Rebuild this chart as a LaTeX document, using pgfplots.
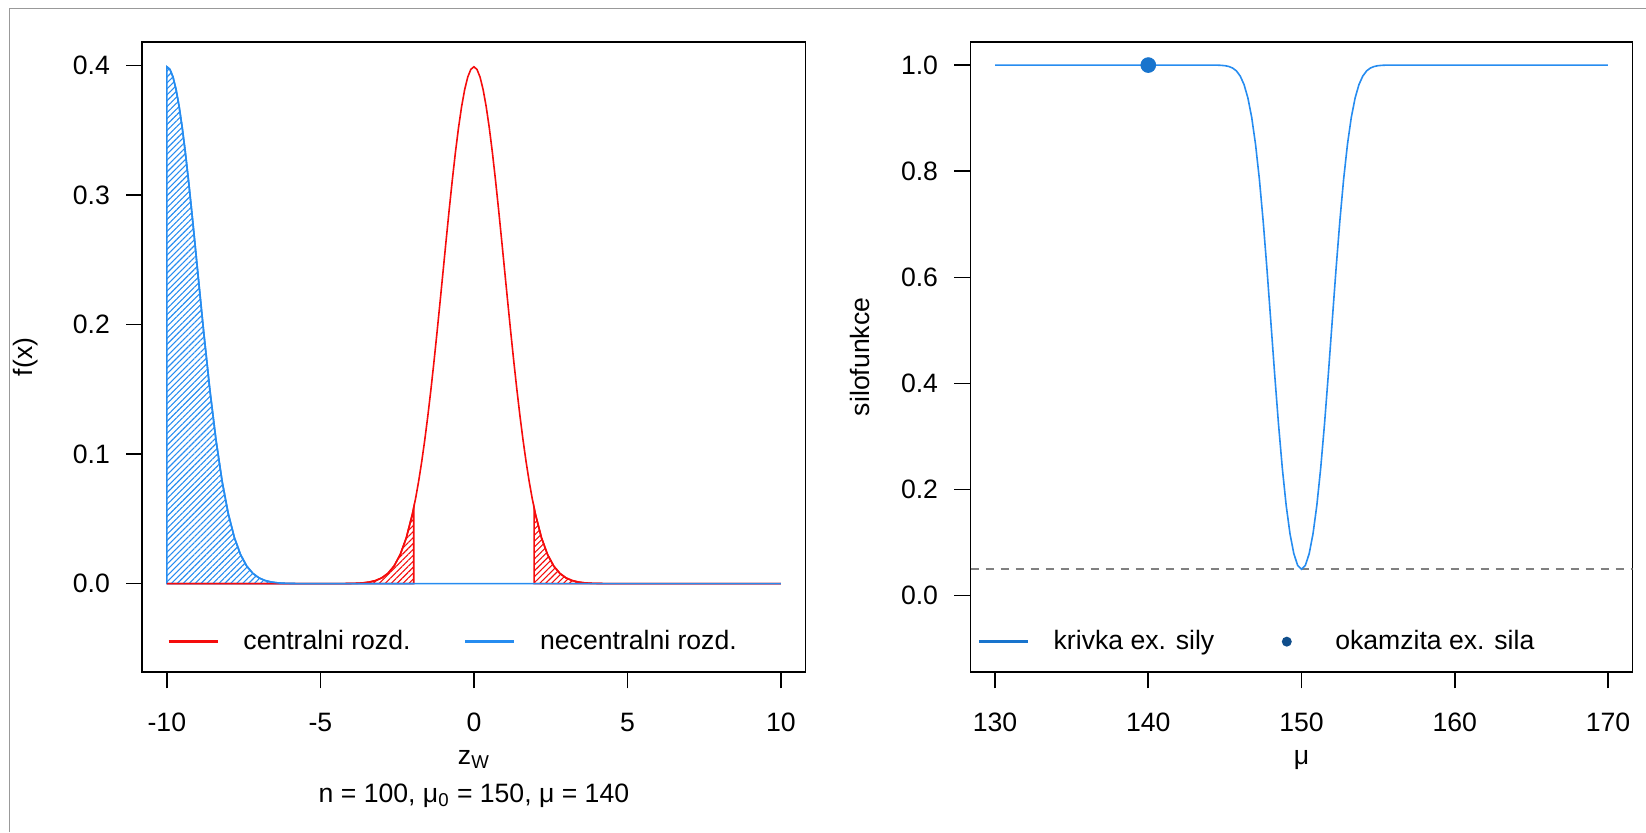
\documentclass[border=0pt]{standalone}
\usepackage{fontspec}
\setmainfont{Liberation Sans}
\usepackage{pgfplots}
\pgfplotsset{compat=1.18}
\usetikzlibrary{patterns.meta}

\definecolor{cred}{RGB}{245,12,12}
\definecolor{cblue}{RGB}{38,140,240}
\definecolor{cblue3}{RGB}{24,116,205}
\definecolor{cblue4}{RGB}{16,78,139}
\newcommand{\fs}{\fontsize{13.3}{16}\selectfont}

\pgfplotsset{
  rstyle/.style={
    scale only axis,
    axis line style={line width=0.8pt},
    tick style={line width=0.8pt, black},
    tick align=outside,
    major tick length=8.1pt,
    xtick pos=left, ytick pos=left,
    every tick label/.append style={font=\fs},
    title style={font=\fs},
    yticklabel style={xshift=-4.6pt},
    xticklabel style={yshift=-8.8pt},
    legend style={draw=none, fill=none, inner sep=0pt, outer sep=0pt, font=\fs},
    legend columns=2,
    every axis x label/.style={at={(axis description cs:0.5,0)},anchor=base,yshift=-46pt,font=\fs},
  }
}

\begin{document}
\begin{tikzpicture}
\useasboundingbox (0pt,0pt) rectangle (823pt,-416pt);
\draw[black!40, line width=0.75pt] (4.65pt,-416pt) -- (4.65pt,-4.15pt) -- (823pt,-4.15pt);

% ---------------- left panel ----------------
\begin{axis}[rstyle,
  at={(71.15pt,-20.85pt)}, anchor=north west,
  width=331.6pt, height=315.2pt,
  xmin=-10.8, xmax=10.8, ymin=-0.0683, ymax=0.4183,
  xtick={-10,-5,0,5,10}, xticklabels={-10,-5,0,5,10},
  ytick={0,0.1,0.2,0.3,0.4}, yticklabels={0.0,0.1,0.2,0.3,0.4},
  xlabel={z\textsubscript{W}},
  ylabel={f(x)},
  every axis y label/.style={at={(axis description cs:-0.1754,0.5)},anchor=center,rotate=90,font=\fs},
  title={n = 100, μ\textsubscript{0} = 150, μ = 140},
  title style={at={(axis description cs:0.5,0)}, anchor=base, yshift=-71pt},
  legend style={at={(axis cs:-10,-0.0447)}, anchor=west,
    /tikz/every odd column/.append style={column sep=10pt},
    /tikz/every even column/.append style={column sep=24.5pt}},
]
% hatched tails of the central distribution
\addplot[draw=cred, line width=0.8pt, pattern={Lines[angle=45,distance=2.1pt,line width=0.55pt]}, pattern color=cred, forget plot]
 coordinates {(-10,0) (-5,0.000001) (-4.4,0.000025) (-4.2,0.000059) (-4,0.000134) (-3.8,0.000292) (-3.6,0.000612) (-3.4,0.001232) (-3.2,0.002384) (-3,0.004432) (-2.8,0.007915) (-2.6,0.013583) (-2.4,0.022395) (-2.2,0.035475) (-2,0.053991) (-1.96,0.058441) (-1.96,0)} \closedcycle;
\addplot[draw=cred, line width=0.8pt, pattern={Lines[angle=45,distance=2.1pt,line width=0.55pt]}, pattern color=cred, forget plot]
 coordinates {(1.96,0) (1.96,0.058441) (2,0.053991) (2.2,0.035475) (2.4,0.022395) (2.6,0.013583) (2.8,0.007915) (3,0.004432) (3.2,0.002384) (3.4,0.001232) (3.6,0.000612) (3.8,0.000292) (4,0.000134) (4.2,0.000059) (4.4,0.000025) (5,0.000001) (10,0)} \closedcycle;
% hatched region of the noncentral distribution
\addplot[draw=cblue, line width=0.8pt, pattern={Lines[angle=45,distance=2.1pt,line width=0.55pt]}, pattern color=cblue, forget plot]
 coordinates {(-10,0) (-10,0.398942) (-9.9,0.396953) (-9.8,0.391043) (-9.7,0.381388) (-9.6,0.368270) (-9.5,0.352065) (-9.4,0.333225) (-9.3,0.312254) (-9.2,0.289692) (-9.1,0.266085) (-9,0.241971) (-8.8,0.194186) (-8.6,0.149727) (-8.4,0.110921) (-8.2,0.078950) (-8,0.053991) (-7.8,0.035475) (-7.6,0.022395) (-7.4,0.013583) (-7.2,0.007915) (-7,0.004432) (-6.8,0.002384) (-6.6,0.001232) (-6.4,0.000612) (-6.2,0.000292) (-6,0.000134) (-5.8,0.000059) (-5.6,0.000025) (-5,0.000001) (-1.96,0)} \closedcycle;
% central density
\addplot[cred, line width=0.8pt,
  legend image code/.code={\draw[cred, line width=1.8pt] (0pt,0pt) -- (24.5pt,0pt);}]
 coordinates {(-10,0) (-5,0.000001) (-4.4,0.000025) (-4.2,0.000059) (-4,0.000134) (-3.8,0.000292) (-3.6,0.000612) (-3.4,0.001232) (-3.2,0.002384) (-3,0.004432) (-2.8,0.007915) (-2.6,0.013583) (-2.4,0.022395) (-2.2,0.035475) (-2,0.053991) (-1.9,0.065616) (-1.8,0.078950) (-1.7,0.094049) (-1.6,0.110921) (-1.5,0.129518) (-1.4,0.149727) (-1.3,0.171369) (-1.2,0.194186) (-1.1,0.217852) (-1,0.241971) (-0.9,0.266085) (-0.8,0.289692) (-0.7,0.312254) (-0.6,0.333225) (-0.5,0.352065) (-0.4,0.368270) (-0.3,0.381388) (-0.2,0.391043) (-0.1,0.396953) (0,0.398942) (0.1,0.396953) (0.2,0.391043) (0.3,0.381388) (0.4,0.368270) (0.5,0.352065) (0.6,0.333225) (0.7,0.312254) (0.8,0.289692) (0.9,0.266085) (1,0.241971) (1.1,0.217852) (1.2,0.194186) (1.3,0.171369) (1.4,0.149727) (1.5,0.129518) (1.6,0.110921) (1.7,0.094049) (1.8,0.078950) (1.9,0.065616) (2,0.053991) (2.2,0.035475) (2.4,0.022395) (2.6,0.013583) (2.8,0.007915) (3,0.004432) (3.2,0.002384) (3.4,0.001232) (3.6,0.000612) (3.8,0.000292) (4,0.000134) (4.2,0.000059) (4.4,0.000025) (5,0.000001) (10,0)};
\addlegendentry{centralni rozd.}
% noncentral density
\addplot[cblue, line width=0.8pt,
  legend image code/.code={\draw[cblue, line width=1.8pt] (0pt,0pt) -- (24.5pt,0pt);}]
 coordinates {(-10,0.398942) (-9.9,0.396953) (-9.8,0.391043) (-9.7,0.381388) (-9.6,0.368270) (-9.5,0.352065) (-9.4,0.333225) (-9.3,0.312254) (-9.2,0.289692) (-9.1,0.266085) (-9,0.241971) (-8.8,0.194186) (-8.6,0.149727) (-8.4,0.110921) (-8.2,0.078950) (-8,0.053991) (-7.8,0.035475) (-7.6,0.022395) (-7.4,0.013583) (-7.2,0.007915) (-7,0.004432) (-6.8,0.002384) (-6.6,0.001232) (-6.4,0.000612) (-6.2,0.000292) (-6,0.000134) (-5.8,0.000059) (-5.6,0.000025) (-5,0.000001) (10,0)};
\addlegendentry{necentralni rozd.}
\end{axis}

% ---------------- right panel ----------------
\begin{axis}[rstyle,
  at={(485.25pt,-20.85pt)}, anchor=north west,
  width=331pt, height=315.2pt,
  xmin=128.4, xmax=171.6, ymin=-0.144, ymax=1.044,
  xtick={130,140,150,160,170}, xticklabels={130,140,150,160,170},
  ytick={0,0.2,0.4,0.6,0.8,1}, yticklabels={0.0,0.2,0.4,0.6,0.8,1.0},
  xlabel={μ},
  ylabel={silofunkce},
  every axis y label/.style={at={(axis description cs:-0.1669,0.5)},anchor=center,rotate=90,font=\fs},
  legend style={at={(axis cs:128.83,-0.0866)}, anchor=west,
    /tikz/every odd column/.append style={column sep=10pt},
    /tikz/every even column/.append style={column sep=22pt}},
]
\addplot[black!50, line width=0.7pt, dash pattern=on 4pt off 3.5pt, forget plot]
 coordinates {(128.4,0.05) (171.6,0.05)};
\addplot[cblue, line width=0.8pt,
  legend image code/.code={\draw[cblue3, line width=1.8pt] (0pt,0pt) -- (24.5pt,0pt);}]
 coordinates {(130,1) (143.5,1) (144,0.99997) (144.5,0.9998) (144.75,0.9995) (145,0.99882) (145.25,0.99736) (145.5,0.99446) (145.75,0.9890) (146,0.9793) (146.25,0.9633) (146.5,0.9382) (146.75,0.9015) (147,0.8508) (147.25,0.7852) (147.5,0.7054) (147.75,0.6141) (148,0.5160) (148.25,0.4169) (148.5,0.3231) (148.75,0.2396) (149,0.1701) (149.25,0.1165) (149.5,0.0791) (149.75,0.0572) (150,0.05) (150.25,0.0572) (150.5,0.0791) (150.75,0.1165) (151,0.1701) (151.25,0.2396) (151.5,0.3231) (151.75,0.4169) (152,0.5160) (152.25,0.6141) (152.5,0.7054) (152.75,0.7852) (153,0.8508) (153.25,0.9015) (153.5,0.9382) (153.75,0.9633) (154,0.9793) (154.25,0.9890) (154.5,0.99446) (154.75,0.99736) (155,0.99882) (155.25,0.9995) (155.5,0.9998) (156,0.99997) (156.5,1) (170,1)};
\addlegendentry{krivka ex. sily}
\addplot[only marks, mark=*, mark size=3.7pt, cblue3, mark options={draw=cblue3, fill=cblue3},
  legend image code/.code={\path[draw=none,fill=none] (0pt,-0.1pt) rectangle (24.5pt,0.1pt); \fill[cblue4, draw=none] (12.25pt,0pt) circle (2.5pt);}]
 coordinates {(140,1)};
\addlegendentry{okamzita ex. sila}
\end{axis}
\end{tikzpicture}
\end{document}
